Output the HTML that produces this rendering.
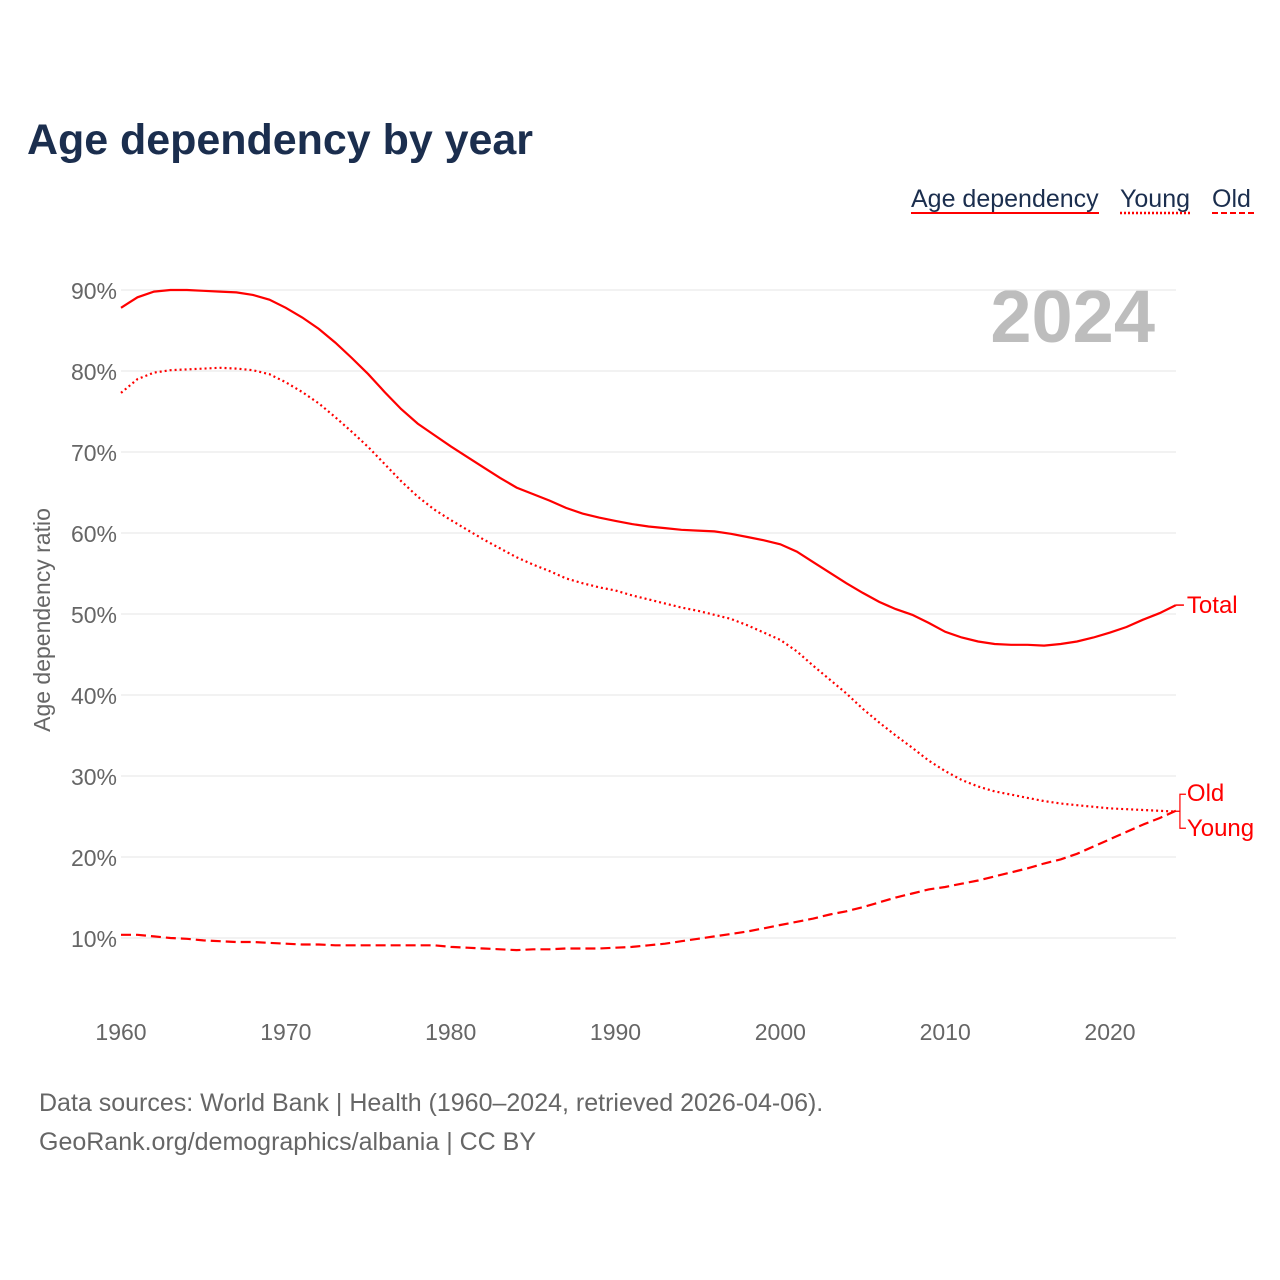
<!DOCTYPE html>
<html><head><meta charset="utf-8"><style>
html,body{margin:0;padding:0;background:#fff;width:1280px;height:1280px;overflow:hidden}
svg text{font-family:"Liberation Sans",sans-serif}
</style></head><body>
<svg id="chart" width="1280" height="1280" xmlns="http://www.w3.org/2000/svg">
<text x="27" y="154" font-size="43" font-weight="bold" fill="#1b2e4e" textLength="506">Age dependency by year</text>
<g font-size="25" fill="#1b2e4e">
<g><text x="911" y="207">Age dependency</text><line x1="911" y1="213" x2="1099" y2="213" stroke="#f00" stroke-width="2"/></g>
<g><text x="1120" y="207">Young</text><line x1="1120" y1="213" x2="1191" y2="213" stroke="#f00" stroke-width="2.5" stroke-dasharray="2,2"/></g>
<g><text x="1212" y="207">Old</text><line x1="1212" y1="213" x2="1254" y2="213" stroke="#f00" stroke-width="2" stroke-dasharray="6,3"/></g>
</g>
<text x="1155" y="342" font-size="74" font-weight="bold" fill="#bdbdbd" text-anchor="end">2024</text>
<g id="grid"></g><g id="yticks"></g><g id="xticks"></g><g id="lines"></g>
<text transform="translate(50,620) rotate(-90)" font-size="23" fill="#666" text-anchor="middle">Age dependency ratio</text>
<text x="39" y="1111" font-size="25" fill="#666">Data sources: World Bank | Health (1960–2024, retrieved 2026-04-06).</text>
<text x="39" y="1150" font-size="25" fill="#666">GeoRank.org/demographics/albania | CC BY</text>
</svg>
<script>
const years=[];for(let y=1960;y<=2024;y++)years.push(y);
const total=[87.8,89.1,89.8,90.0,90.0,89.9,89.8,89.7,89.4,88.8,87.8,86.6,85.2,83.5,81.6,79.6,77.4,75.3,73.5,72.1,70.7,69.4,68.1,66.8,65.6,64.8,64.0,63.1,62.4,61.9,61.5,61.1,60.8,60.6,60.4,60.3,60.2,59.9,59.5,59.1,58.6,57.7,56.4,55.1,53.8,52.6,51.5,50.6,49.9,48.9,47.8,47.1,46.6,46.3,46.2,46.2,46.1,46.3,46.6,47.1,47.7,48.4,49.3,50.1,51.1];
const young=[77.3,79.0,79.8,80.1,80.2,80.3,80.4,80.3,80.1,79.6,78.6,77.4,76.0,74.3,72.5,70.6,68.5,66.4,64.5,62.9,61.6,60.4,59.2,58.1,57.0,56.1,55.3,54.4,53.8,53.3,52.9,52.3,51.8,51.3,50.8,50.4,49.9,49.4,48.6,47.7,46.8,45.4,43.6,41.9,40.2,38.3,36.6,35.0,33.5,31.9,30.6,29.5,28.7,28.1,27.7,27.3,26.9,26.6,26.4,26.2,26.0,25.9,25.8,25.7,25.6];
const old=[10.4,10.4,10.2,10.0,9.9,9.7,9.6,9.5,9.5,9.4,9.3,9.2,9.2,9.1,9.1,9.1,9.1,9.1,9.1,9.1,8.9,8.8,8.7,8.6,8.5,8.6,8.6,8.7,8.7,8.7,8.8,8.9,9.1,9.3,9.6,9.9,10.2,10.5,10.8,11.2,11.6,12.0,12.4,12.9,13.3,13.8,14.4,15.0,15.5,16.0,16.3,16.7,17.1,17.6,18.1,18.6,19.2,19.7,20.4,21.3,22.2,23.1,24.0,24.8,25.7];
const yTicks=[10,20,30,40,50,60,70,80,90];
const xTicks=[1960,1970,1980,1990,2000,2010,2020];
const X=y=>121+(y-1960)*(989/60);
const Y=v=>1019-v*8.1;
const NS="http://www.w3.org/2000/svg";
function mk(tag,parent,attrs){const e=document.createElementNS(NS,tag);for(const k in attrs)e.setAttribute(k,attrs[k]);document.getElementById(parent).appendChild(e);return e;}
yTicks.forEach(v=>{
 const l=mk('line','grid',{x1:121,x2:1176,y1:Y(v),y2:Y(v),stroke:'#e6e6e6','stroke-width':1});
 
 
 const t=mk('text','yticks',{x:117,y:Y(v)+9,'font-size':23,fill:'#666','text-anchor':'end'});
 t.textContent=v+'%';
 
 
});
xTicks.forEach(v=>{
 const t=mk('text','xticks',{x:X(v),y:1040,'font-size':23,fill:'#666','text-anchor':'middle'});
 t.textContent=v;
 
 
});
function line(arr,dash,name){
 const d=arr.map((v,i)=>(i?'L':'M')+X(years[i]).toFixed(1)+','+Y(v).toFixed(1)).join('');
 const p=mk('path','lines',{d:d,fill:'none',stroke:'#f00','stroke-width':2.2,'stroke-dasharray':dash});
 
 
}
line(total,'','line-total');
line(young,'2,3','line-young');
line(old,'10,5','line-old');
const n=years.length-1, xe=X(years[n]);
function lab(txt,y,name){const t=mk('text','lines',{x:xe+11,y:y,'font-size':24,fill:'#f00'});t.textContent=txt;}
mk('path','lines',{d:`M${xe},${Y(total[n])}L${xe+8},${Y(total[n])}`,stroke:'#f00','stroke-width':1.5,fill:'none'});
lab('Total',Y(total[n])+8,'label-total');
const ym=(Y(old[n])+Y(young[n]))/2;
mk('path','lines',{d:`M${xe},${ym}L${xe+4},${ym}M${xe+10},${ym-17}L${xe+4},${ym-17}L${xe+4},${ym+17}L${xe+10},${ym+17}`,stroke:'#f00','stroke-width':1.2,fill:'none'});
lab('Old',ym-10,'label-old');
lab('Young',ym+25,'label-young');
</script>
</body></html>
